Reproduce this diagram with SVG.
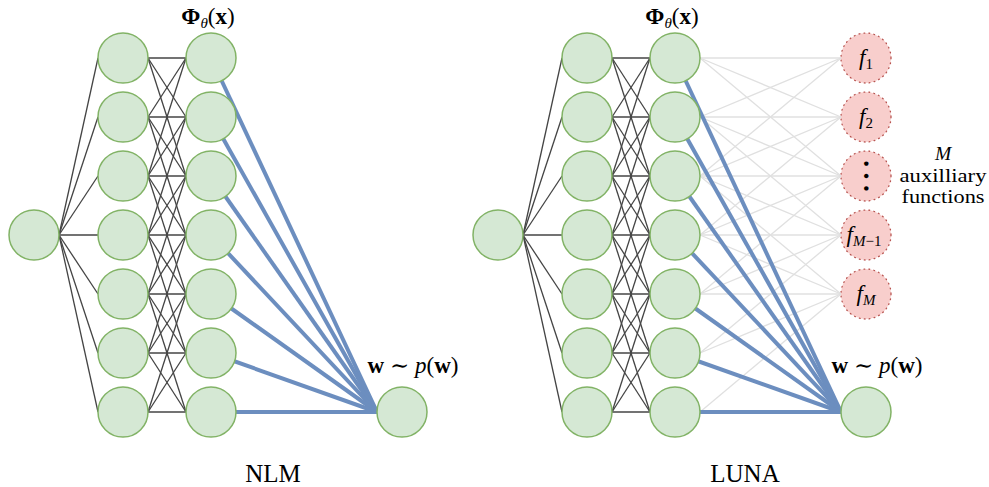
<svg xmlns="http://www.w3.org/2000/svg" width="989" height="487" viewBox="0 0 989 487">
  <style>
    .node { fill: #d5e8d4; stroke: #82b366; stroke-width: 1.5; }
    .aux { fill: #f8cecc; stroke: #b85450; stroke-width: 1.3; stroke-dasharray: 0.8 4.2; stroke-linecap: round; }
    .dense { stroke: #444444; stroke-width: 1.3; fill: none; }
    .faint { stroke: #e0e0e0; stroke-width: 1.3; fill: none; }
    .head { stroke: #6c8ebf; stroke-width: 4; fill: none; }
    .math { font-family: "Liberation Serif", "DejaVu Serif", serif; fill: #000; }
    .cap { font-family: "Liberation Serif", serif; font-size: 25px; fill: #000; text-anchor: middle; }
  </style>

  <!-- ===================== NLM (left) ===================== -->
  <g id="nlm-connectors">
    <!-- input to first hidden layer -->
    <g class="dense">
      <line x1="59" y1="235" x2="98" y2="58"/>
      <line x1="59" y1="235" x2="98" y2="117"/>
      <line x1="59" y1="235" x2="98" y2="176"/>
      <line x1="59" y1="235" x2="98" y2="235"/>
      <line x1="59" y1="235" x2="98" y2="294"/>
      <line x1="59" y1="235" x2="98" y2="353"/>
      <line x1="59" y1="235" x2="98" y2="412"/>
    </g>
    <!-- banded hidden-to-hidden weights -->
    <g class="dense">
      <line x1="148" y1="58" x2="186" y2="58"/><line x1="148" y1="58" x2="186" y2="117"/><line x1="148" y1="58" x2="186" y2="176"/>
      <line x1="148" y1="117" x2="186" y2="58"/><line x1="148" y1="117" x2="186" y2="117"/><line x1="148" y1="117" x2="186" y2="176"/><line x1="148" y1="117" x2="186" y2="235"/>
      <line x1="148" y1="176" x2="186" y2="58"/><line x1="148" y1="176" x2="186" y2="117"/><line x1="148" y1="176" x2="186" y2="176"/><line x1="148" y1="176" x2="186" y2="235"/><line x1="148" y1="176" x2="186" y2="294"/>
      <line x1="148" y1="235" x2="186" y2="117"/><line x1="148" y1="235" x2="186" y2="176"/><line x1="148" y1="235" x2="186" y2="235"/><line x1="148" y1="235" x2="186" y2="294"/><line x1="148" y1="235" x2="186" y2="353"/>
      <line x1="148" y1="294" x2="186" y2="176"/><line x1="148" y1="294" x2="186" y2="235"/><line x1="148" y1="294" x2="186" y2="294"/><line x1="148" y1="294" x2="186" y2="353"/><line x1="148" y1="294" x2="186" y2="412"/>
      <line x1="148" y1="353" x2="186" y2="235"/><line x1="148" y1="353" x2="186" y2="294"/><line x1="148" y1="353" x2="186" y2="353"/><line x1="148" y1="353" x2="186" y2="412"/>
      <line x1="148" y1="412" x2="186" y2="294"/><line x1="148" y1="412" x2="186" y2="353"/><line x1="148" y1="412" x2="186" y2="412"/>
    </g>
    <!-- last-layer weights w -->
    <g class="head">
      <line x1="211" y1="58" x2="377" y2="412"/>
      <line x1="211" y1="117" x2="377" y2="412"/>
      <line x1="211" y1="176" x2="377" y2="412"/>
      <line x1="211" y1="235" x2="377" y2="412"/>
      <line x1="211" y1="294" x2="377" y2="412"/>
      <line x1="211" y1="353" x2="377" y2="412"/>
      <line x1="211" y1="412" x2="377" y2="412"/>
    </g>
  </g>

  <g id="nlm-input"><circle class="node" cx="34" cy="235" r="25"/></g>
  <g id="nlm-hidden1">
    <circle class="node" cx="123" cy="58" r="25"/>
    <circle class="node" cx="123" cy="117" r="25"/>
    <circle class="node" cx="123" cy="176" r="25"/>
    <circle class="node" cx="123" cy="235" r="25"/>
    <circle class="node" cx="123" cy="294" r="25"/>
    <circle class="node" cx="123" cy="353" r="25"/>
    <circle class="node" cx="123" cy="412" r="25"/>
  </g>
  <g id="nlm-features">
    <circle class="node" cx="211" cy="58" r="25"/>
    <circle class="node" cx="211" cy="117" r="25"/>
    <circle class="node" cx="211" cy="176" r="25"/>
    <circle class="node" cx="211" cy="235" r="25"/>
    <circle class="node" cx="211" cy="294" r="25"/>
    <circle class="node" cx="211" cy="353" r="25"/>
    <circle class="node" cx="211" cy="412" r="25"/>
    <text class="math" x="208" y="24" font-size="23" text-anchor="middle"><tspan font-weight="bold">Φ</tspan><tspan font-style="italic" font-size="15" dy="4">θ</tspan><tspan dy="-4">(</tspan><tspan font-weight="bold">x</tspan>)</text>
  </g>
  <g id="nlm-output">
    <circle class="node" cx="402" cy="412" r="25"/>
    <text class="math" x="413" y="373" font-size="23" text-anchor="middle"><tspan font-weight="bold">w</tspan> ∼ <tspan font-style="italic">p</tspan>(<tspan font-weight="bold">w</tspan>)</text>
  </g>
  <text class="cap" x="273" y="482">NLM</text>

  <!-- ===================== LUNA (right) ===================== -->
  <g id="luna-connectors">
    <g class="dense">
      <line x1="523" y1="235" x2="562" y2="58"/>
      <line x1="523" y1="235" x2="562" y2="117"/>
      <line x1="523" y1="235" x2="562" y2="176"/>
      <line x1="523" y1="235" x2="562" y2="235"/>
      <line x1="523" y1="235" x2="562" y2="294"/>
      <line x1="523" y1="235" x2="562" y2="353"/>
      <line x1="523" y1="235" x2="562" y2="412"/>
    </g>
    <g class="dense">
      <line x1="612" y1="58" x2="650" y2="58"/><line x1="612" y1="58" x2="650" y2="117"/><line x1="612" y1="58" x2="650" y2="176"/>
      <line x1="612" y1="117" x2="650" y2="58"/><line x1="612" y1="117" x2="650" y2="117"/><line x1="612" y1="117" x2="650" y2="176"/><line x1="612" y1="117" x2="650" y2="235"/>
      <line x1="612" y1="176" x2="650" y2="58"/><line x1="612" y1="176" x2="650" y2="117"/><line x1="612" y1="176" x2="650" y2="176"/><line x1="612" y1="176" x2="650" y2="235"/><line x1="612" y1="176" x2="650" y2="294"/>
      <line x1="612" y1="235" x2="650" y2="117"/><line x1="612" y1="235" x2="650" y2="176"/><line x1="612" y1="235" x2="650" y2="235"/><line x1="612" y1="235" x2="650" y2="294"/><line x1="612" y1="235" x2="650" y2="353"/>
      <line x1="612" y1="294" x2="650" y2="176"/><line x1="612" y1="294" x2="650" y2="235"/><line x1="612" y1="294" x2="650" y2="294"/><line x1="612" y1="294" x2="650" y2="353"/><line x1="612" y1="294" x2="650" y2="412"/>
      <line x1="612" y1="353" x2="650" y2="235"/><line x1="612" y1="353" x2="650" y2="294"/><line x1="612" y1="353" x2="650" y2="353"/><line x1="612" y1="353" x2="650" y2="412"/>
      <line x1="612" y1="412" x2="650" y2="294"/><line x1="612" y1="412" x2="650" y2="353"/><line x1="612" y1="412" x2="650" y2="412"/>
    </g>
    <!-- feature-to-auxiliary links -->
    <g class="faint">
      <line x1="700" y1="58" x2="841" y2="58"/><line x1="700" y1="58" x2="841" y2="117"/><line x1="700" y1="58" x2="841" y2="176"/>
      <line x1="700" y1="117" x2="841" y2="58"/><line x1="700" y1="117" x2="841" y2="117"/><line x1="700" y1="117" x2="841" y2="176"/><line x1="700" y1="117" x2="841" y2="235"/>
      <line x1="700" y1="176" x2="841" y2="58"/><line x1="700" y1="176" x2="841" y2="117"/><line x1="700" y1="176" x2="841" y2="176"/><line x1="700" y1="176" x2="841" y2="235"/><line x1="700" y1="176" x2="841" y2="294"/>
      <line x1="700" y1="235" x2="841" y2="117"/><line x1="700" y1="235" x2="841" y2="176"/><line x1="700" y1="235" x2="841" y2="235"/><line x1="700" y1="235" x2="841" y2="294"/>
      <line x1="700" y1="294" x2="841" y2="176"/><line x1="700" y1="294" x2="841" y2="235"/><line x1="700" y1="294" x2="841" y2="294"/>
      <line x1="700" y1="353" x2="841" y2="235"/><line x1="700" y1="353" x2="841" y2="294"/>
      <line x1="700" y1="412" x2="841" y2="294"/>
    </g>
    <g class="head">
      <line x1="675" y1="58" x2="841" y2="412"/>
      <line x1="675" y1="117" x2="841" y2="412"/>
      <line x1="675" y1="176" x2="841" y2="412"/>
      <line x1="675" y1="235" x2="841" y2="412"/>
      <line x1="675" y1="294" x2="841" y2="412"/>
      <line x1="675" y1="353" x2="841" y2="412"/>
      <line x1="675" y1="412" x2="841" y2="412"/>
    </g>
  </g>

  <g id="luna-input"><circle class="node" cx="498" cy="235" r="25"/></g>
  <g id="luna-hidden1">
    <circle class="node" cx="587" cy="58" r="25"/>
    <circle class="node" cx="587" cy="117" r="25"/>
    <circle class="node" cx="587" cy="176" r="25"/>
    <circle class="node" cx="587" cy="235" r="25"/>
    <circle class="node" cx="587" cy="294" r="25"/>
    <circle class="node" cx="587" cy="353" r="25"/>
    <circle class="node" cx="587" cy="412" r="25"/>
  </g>
  <g id="luna-features">
    <circle class="node" cx="675" cy="58" r="25"/>
    <circle class="node" cx="675" cy="117" r="25"/>
    <circle class="node" cx="675" cy="176" r="25"/>
    <circle class="node" cx="675" cy="235" r="25"/>
    <circle class="node" cx="675" cy="294" r="25"/>
    <circle class="node" cx="675" cy="353" r="25"/>
    <circle class="node" cx="675" cy="412" r="25"/>
    <text class="math" x="672" y="24" font-size="23" text-anchor="middle"><tspan font-weight="bold">Φ</tspan><tspan font-style="italic" font-size="15" dy="4">θ</tspan><tspan dy="-4">(</tspan><tspan font-weight="bold">x</tspan>)</text>
  </g>
  <g id="luna-aux-f1">
    <circle class="aux" cx="866" cy="58" r="25"/>
    <text class="math" x="866" y="65" font-size="23" text-anchor="middle"><tspan font-style="italic">f</tspan><tspan font-size="15" dy="4">1</tspan></text>
  </g>
  <g id="luna-aux-f2">
    <circle class="aux" cx="866" cy="117" r="25"/>
    <text class="math" x="866" y="124" font-size="23" text-anchor="middle"><tspan font-style="italic">f</tspan><tspan font-size="15" dy="4">2</tspan></text>
  </g>
  <g id="luna-aux-dots">
    <circle class="aux" cx="866" cy="176" r="25"/>
    <!-- an ellipsis turned upright gives the vertical dots -->
    <text class="math" transform="translate(866,176) rotate(90)" x="0" y="1.8" font-size="37" text-anchor="middle">…</text>
  </g>
  <g id="luna-aux-fM1">
    <circle class="aux" cx="866" cy="235" r="25"/>
    <text class="math" x="864" y="242" font-size="23" text-anchor="middle"><tspan font-style="italic">f</tspan><tspan font-size="15" dy="4"><tspan font-style="italic">M</tspan>−1</tspan></text>
  </g>
  <g id="luna-aux-fM">
    <circle class="aux" cx="866" cy="294" r="25"/>
    <text class="math" x="866" y="301" font-size="23" text-anchor="middle"><tspan font-style="italic">f</tspan><tspan font-size="15" dy="4" font-style="italic">M</tspan></text>
  </g>
  <g id="luna-aux-label">
    <text class="math" x="943" y="160" font-size="19.5" font-style="italic" text-anchor="middle">M</text>
    <text class="math" x="943" y="182" font-size="19.5" text-anchor="middle" textLength="87" lengthAdjust="spacingAndGlyphs">auxilliary</text>
    <text class="math" x="943" y="203" font-size="19.5" text-anchor="middle" textLength="83" lengthAdjust="spacingAndGlyphs">functions</text>
  </g>
  <g id="luna-output">
    <circle class="node" cx="866" cy="412" r="25"/>
    <text class="math" x="877" y="373" font-size="23" text-anchor="middle"><tspan font-weight="bold">w</tspan> ∼ <tspan font-style="italic">p</tspan>(<tspan font-weight="bold">w</tspan>)</text>
  </g>
  <text class="cap" x="745" y="482">LUNA</text>
</svg>
